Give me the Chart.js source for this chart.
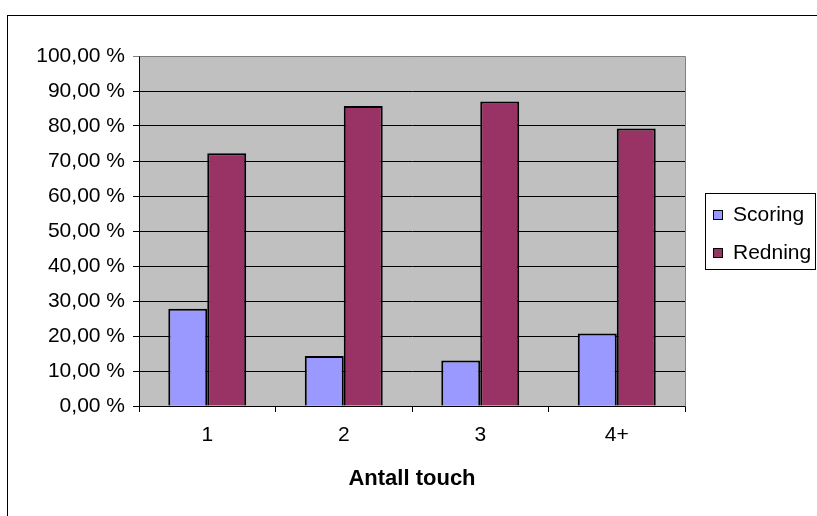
<!DOCTYPE html>
<html>
<head>
<meta charset="utf-8">
<script src="https://cdn.jsdelivr.net/npm/chart.js@4"></script>
<style>
  html, body { margin: 0; padding: 0; background: #ffffff; }
  #wrap { width: 817px; height: 516px; }
</style>
</head>
<body>
<div id="wrap"><canvas id="c" width="817" height="516"></canvas></div>
<script>
// Share of outcomes by number of touches
const categories = ['1', '2', '3', '4+'];
const scoring = [27.8, 14.3, 13.0, 20.7];
const redning = [72.2, 85.7, 87.0, 79.3];
const yTickLabels = ['0,00 %', '10,00 %', '20,00 %', '30,00 %', '40,00 %', '50,00 %',
                     '60,00 %', '70,00 %', '80,00 %', '90,00 %', '100,00 %'];
const xTitle = 'Antall touch';

const FONT = "'Liberation Sans', Arial, sans-serif";

// Gray plot background, outer frame and the boxed legend on the right
const decor = {
  id: 'decor',
  beforeDraw(chart) {
    const { ctx, chartArea: a } = chart;
    ctx.save();
    ctx.fillStyle = '#ffffff';
    ctx.fillRect(0, 0, chart.width, chart.height);
    ctx.fillStyle = '#c0c0c0';
    ctx.fillRect(a.left, a.top, a.right - a.left, a.bottom - a.top);
    ctx.restore();
  },
  afterDraw(chart) {
    const { ctx, chartArea: a } = chart;
    ctx.save();
    // plot border (top / right)
    ctx.strokeStyle = '#808080';
    ctx.lineWidth = 1;
    ctx.beginPath();
    ctx.moveTo(Math.round(a.left) + 0.5, Math.round(a.top) + 0.5);
    ctx.lineTo(Math.round(a.right) + 0.5, Math.round(a.top) + 0.5);
    ctx.lineTo(Math.round(a.right) + 0.5, Math.round(a.bottom) + 0.5);
    ctx.stroke();
    // outer frame
    ctx.strokeStyle = '#000000';
    ctx.strokeRect(7.5, 15.5, 1000, 1000);
    // legend
    ctx.strokeRect(705.5, 193.5, 110, 76);
    ctx.font = '21px ' + FONT;
    ctx.textBaseline = 'middle';
    ctx.textAlign = 'left';
    chart.data.datasets.forEach((ds, i) => {
      const cy = 215 + i * 38;
      ctx.fillStyle = ds.backgroundColor;
      ctx.fillRect(713, cy - 5, 10, 10);
      ctx.strokeStyle = '#000000';
      ctx.strokeRect(713.5, cy - 4.5, 9, 9);
      ctx.fillStyle = '#000000';
      ctx.fillText(ds.label, 733, cy);
    });
    ctx.restore();
  }
};

new Chart(document.getElementById('c'), {
  type: 'bar',
  data: {
    labels: categories,
    datasets: [
      { label: 'Scoring', data: scoring, backgroundColor: '#9999ff',
        borderColor: '#000000', borderWidth: 2 },
      { label: 'Redning', data: redning, backgroundColor: '#993366',
        borderColor: '#000000', borderWidth: 2 }
    ]
  },
  options: {
    responsive: false,
    devicePixelRatio: 1,
    animation: false,
    layout: { padding: { left: 0, top: 56, right: 132, bottom: 0 } },
    datasets: { bar: { categoryPercentage: 0.571, barPercentage: 1.0 } },
    plugins: {
      legend: { display: false },
      tooltip: { enabled: false }
    },
    scales: {
      x: {
        afterFit(scale) { scale.height = 110; },
        grid: { drawOnChartArea: false, drawTicks: true, tickLength: 6,
                color: '#000000', offset: true },
        border: { display: true, color: '#000000', width: 1 },
        ticks: { color: '#000000', padding: 11, font: { family: FONT, size: 21 } },
        title: {
          display: true, text: xTitle, color: '#000000',
          font: { family: FONT, size: 22, weight: 'bold' },
          padding: { top: 0, bottom: 24 }
        }
      },
      y: {
        min: 0, max: 100,
        afterFit(scale) { scale.width = 139; },
        afterBuildTicks(scale) {
          scale.ticks = yTickLabels.map((_, i) => ({ value: i * 10 }));
        },
        grid: {
          drawTicks: true, tickLength: 6,
          color: (ctx) => (ctx.tick && ctx.tick.value === 100 ? '#808080' : '#000000')
        },
        border: { display: true, color: '#000000', width: 1 },
        ticks: {
          color: '#000000', padding: 8,
          font: { family: FONT, size: 21 },
          callback: (v, i) => yTickLabels[i]
        }
      }
    }
  },
  plugins: [decor]
});
</script>
</body>
</html>
